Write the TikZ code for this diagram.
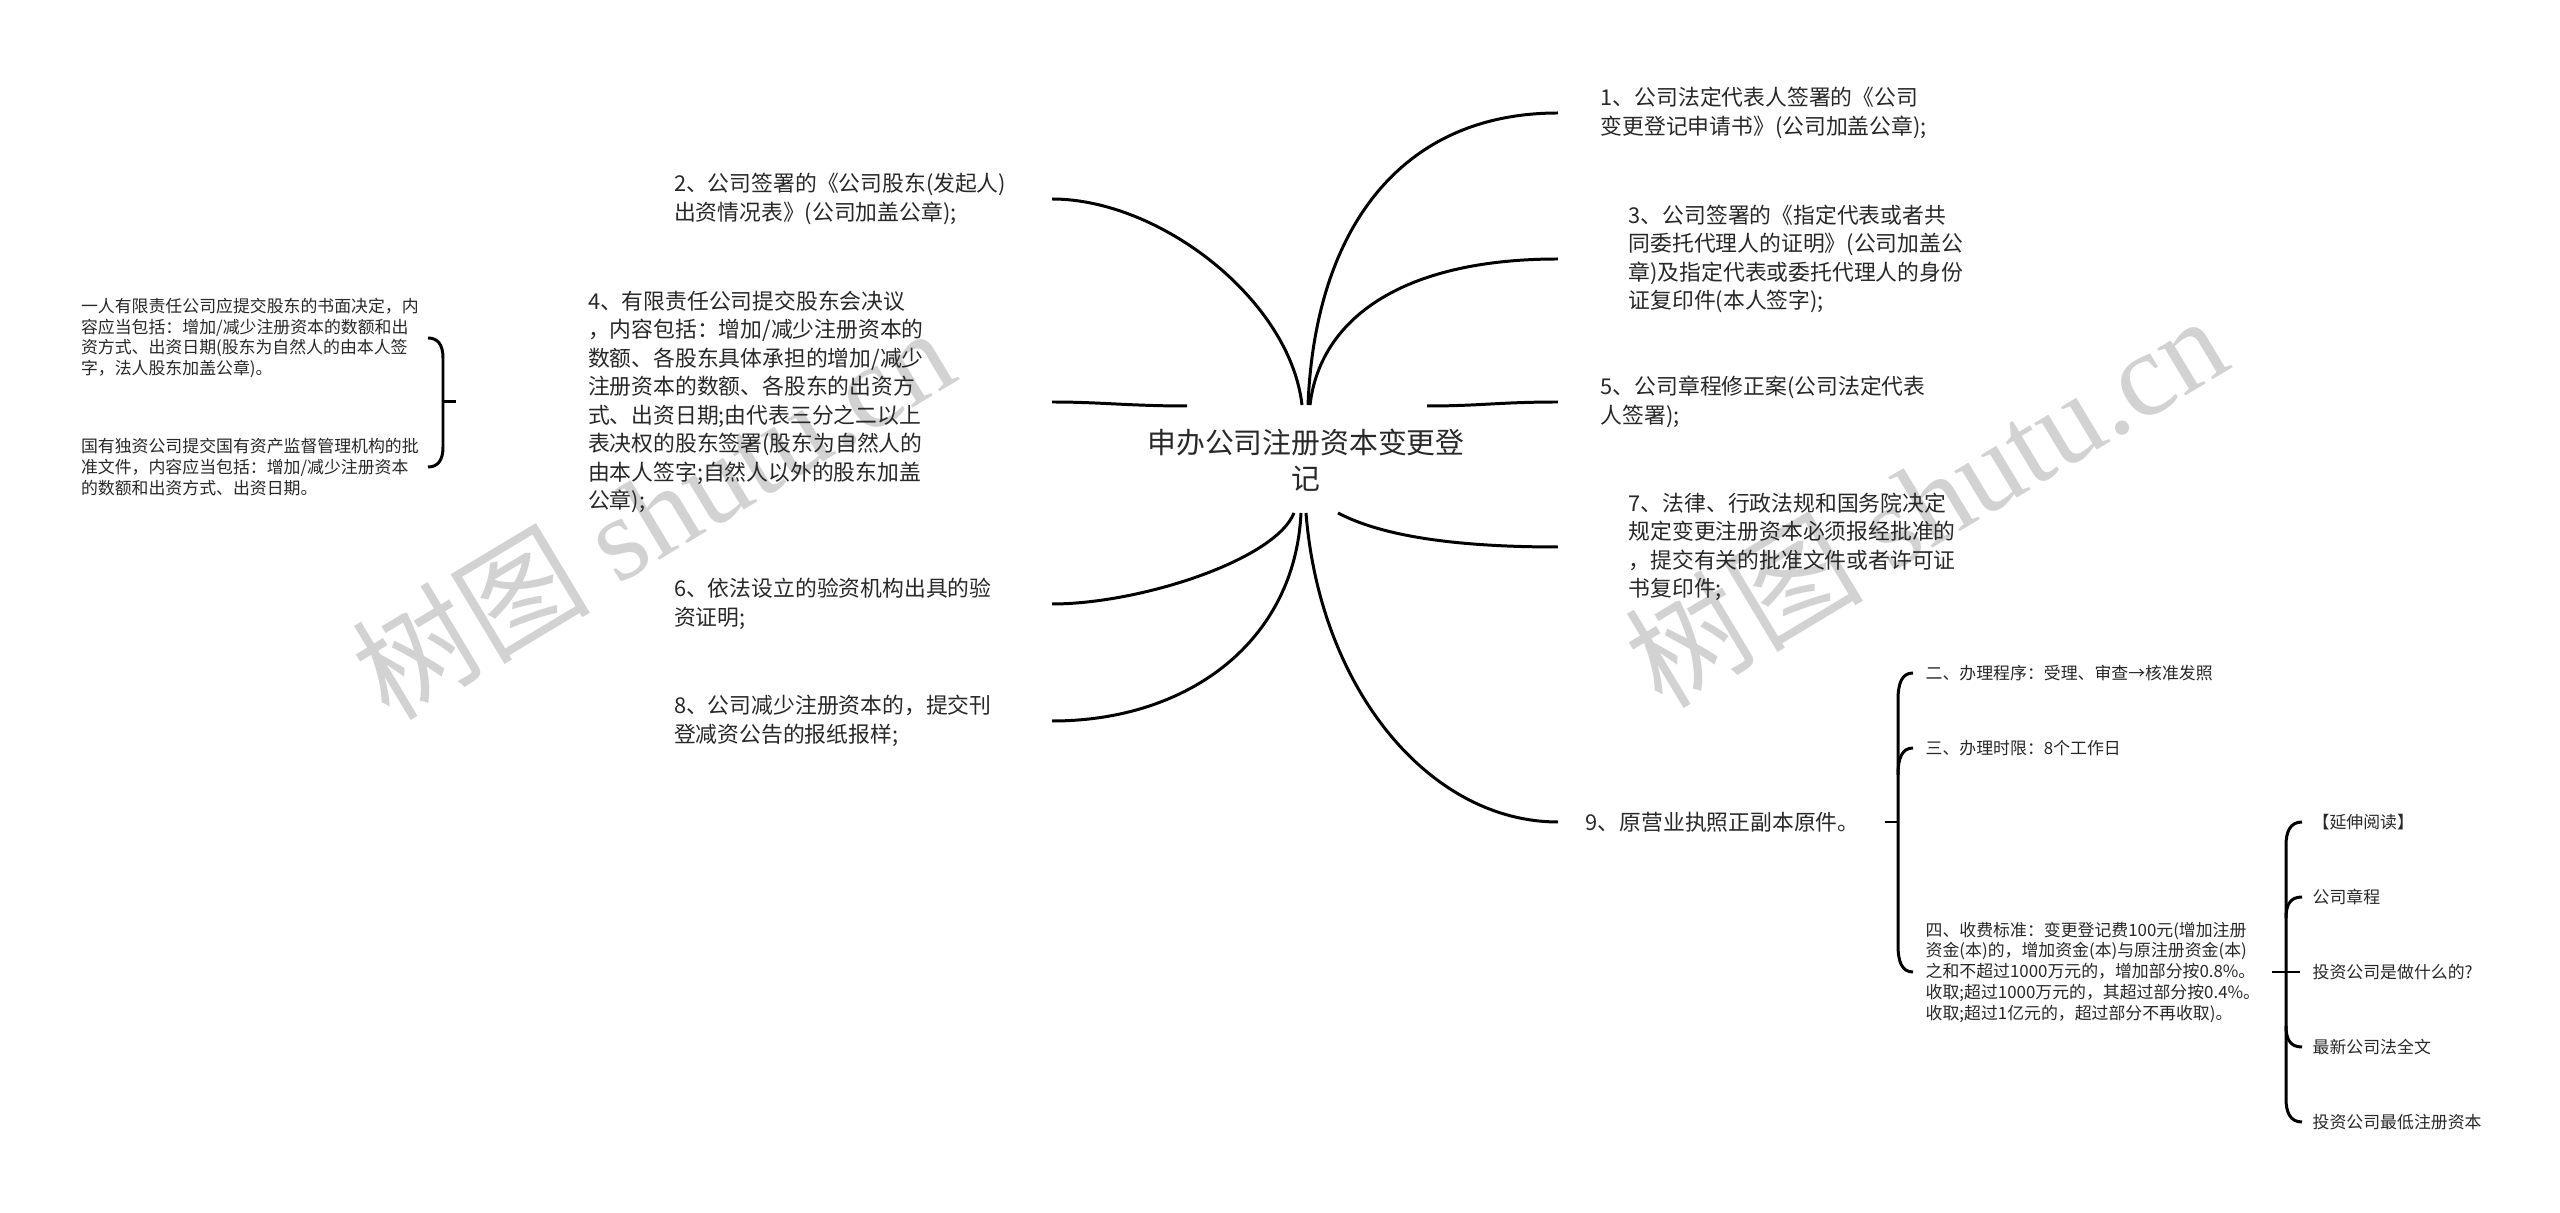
\documentclass[tikz,border=0pt]{standalone}
\usepackage{fontspec}
\setmainfont{Noto Sans CJK SC}
\newfontfamily\wmlatin{Liberation Serif}
\newfontfamily\wmcjk{Noto Sans CJK SC}
\definecolor{txt}{RGB}{40,40,40}
\definecolor{wmc}{RGB}{210,210,210}
\tikzset{
  leaf/.style={inner sep=0pt, align=left, text=txt, font=\fontsize{6.2pt}{8.1pt}\selectfont},
  leafsm/.style={inner sep=0pt, align=left, text=txt, font=\fontsize{4.8pt}{5.9pt}\selectfont},
  rootnode/.style={inner sep=0pt, align=center, text=txt, font=\fontsize{8.2pt}{10.2pt}\selectfont},
  conn/.style={line width=0.85pt, black},
  wmark/.style={inner sep=0pt, text=wmc, rotate=31, font=\fontsize{34pt}{38pt}\selectfont}
}
\begin{document}
\begin{tikzpicture}[x=0.01cm,y=-0.01cm]
\fill[white] (0,0) rectangle (2560,1213);
\useasboundingbox (0,0) rectangle (2560,1213);

% watermarks
\node[wmark] (w1) at (652,512) {\wmcjk 树图 \wmlatin shutu.cn};
\node[wmark] (w2) at (1925,500) {\wmcjk 树图 \wmlatin shutu.cn};

% root
\node[rootnode] (c) at (1306,460) {申办公司注册资本变更登\\记};
\coordinate (ct) at (1305,405);
\coordinate (cb) at (1301,513);
\coordinate (cl) at (1187,406);
\coordinate (cr) at (1427,406);
\coordinate (cbr) at (1338,513);

% right leaves
\node[leaf, anchor=west] (n1) at (1600,113) {1、公司法定代表人签署的《公司\\变更登记申请书》(公司加盖公章);};
\node[leaf, anchor=west] (n3) at (1628,259) {3、公司签署的《指定代表或者共\\同委托代理人的证明》(公司加盖公\\章)及指定代表或委托代理人的身份\\证复印件(本人签字);};
\node[leaf, anchor=west] (n5) at (1600,402) {5、公司章程修正案(公司法定代表\\人签署);};
\node[leaf, anchor=west] (n7) at (1628,547) {7、法律、行政法规和国务院决定\\规定变更注册资本必须报经批准的\\，提交有关的批准文件或者许可证\\书复印件;};
\node[leaf, anchor=west, text width=2.6cm] (n9) at (1585,822) {9、原营业执照正副本原件。};

% left leaves
\node[leaf, anchor=east, text width=3.77cm] (n2) at (1052,199) {2、公司签署的《公司股东(发起人)\\出资情况表》(公司加盖公章);};
\node[leaf, anchor=east, text width=4.63cm] (n4) at (1052,402) {4、有限责任公司提交股东会决议\\，内容包括：增加/减少注册资本的\\数额、各股东具体承担的增加/减少\\注册资本的数额、各股东的出资方\\式、出资日期;由代表三分之二以上\\表决权的股东签署(股东为自然人的\\由本人签字;自然人以外的股东加盖\\公章);};
\node[leaf, anchor=east, text width=3.77cm] (n6) at (1052,604) {6、依法设立的验资机构出具的验\\资证明;};
\node[leaf, anchor=east, text width=3.77cm] (n8) at (1052,721) {8、公司减少注册资本的，提交刊\\登减资公告的报纸报样;};

% children of 4
\node[leafsm, anchor=east, text width=3.46cm] (k1) at (428,338) {一人有限责任公司应提交股东的书面决定，内\\容应当包括：增加/减少注册资本的数额和出\\资方式、出资日期(股东为自然人的由本人签\\字，法人股东加盖公章)。};
\node[leafsm, anchor=east, text width=3.46cm] (k2) at (428,467) {国有独资公司提交国有资产监督管理机构的批\\准文件，内容应当包括：增加/减少注册资本\\的数额和出资方式、出资日期。};

% children of 9
\node[leafsm, anchor=west] (a1) at (1925,673) {二、办理程序：受理、审查→核准发照};
\node[leafsm, anchor=west] (a2) at (1925,748) {三、办理时限：8个工作日};
\node[leafsm, anchor=west, text width=3.27cm] (a3) at (1925,972) {四、收费标准：变更登记费100元(增加注册\\资金(本)的，增加资金(本)与原注册资金(本)\\之和不超过1000万元的，增加部分按0.8\%。\\收取;超过1000万元的，其超过部分按0.4\%。\\收取;超过1亿元的，超过部分不再收取)。};

% children of 四
\node[leafsm, anchor=west] (b1) at (2312,822) {【延伸阅读】};
\node[leafsm, anchor=west] (b2) at (2312,897) {公司章程};
\node[leafsm, anchor=west] (b3) at (2312,972) {投资公司是做什么的?};
\node[leafsm, anchor=west] (b4) at (2312,1047) {最新公司法全文};
\node[leafsm, anchor=west] (b5) at (2312,1122) {投资公司最低注册资本};

% main connectors
\draw[conn] ([xshift=0.03cm]ct) .. controls (1315,230) and (1400,113) .. ([xshift=-0.42cm]n1.west);
\draw[conn] ([xshift=-0.03cm]ct) .. controls (1290,300) and (1160,199) .. (n2.east);
\draw[conn] ([xshift=0.05cm]ct) .. controls (1320,320) and (1400,259) .. ([xshift=-0.70cm]n3.west);
\draw[conn] (cl) .. controls (1130,406) and (1100,402) .. (n4.east);
\draw[conn] (cr) .. controls (1480,406) and (1500,402) .. ([xshift=-0.42cm]n5.west);
\draw[conn] ([xshift=-0.07cm]cb) .. controls (1275,560) and (1140,604) .. (n6.east);
\draw[conn] (cbr) .. controls (1380,535) and (1450,547) .. ([xshift=-0.70cm]n7.west);
\draw[conn] (cb) .. controls (1295,640) and (1190,721) .. (n8.east);
\draw[conn] ([xshift=0.05cm]cb) .. controls (1320,690) and (1430,822) .. ([xshift=-0.27cm]n9.west);

% bracket for 4
\draw[conn] ([xshift=-1.31cm]n4.west) -- (443,402);
\draw[conn] (k1.east) .. controls (438,338) and (443,345) .. (443,358) -- (443,447) .. controls (443,460) and (438,467) .. (k2.east);

% bracket for 9
\draw[conn] ([xshift=0.38cm]n9.east) -- (1898,822);
\draw[conn] ([xshift=-0.12cm]a1.west) .. controls (1902,673) and (1898,683) .. (1898,700) -- (1898,945) .. controls (1898,962) and (1902,972) .. ([xshift=-0.12cm]a3.west);
\draw[conn] ([xshift=-0.12cm]a2.west) .. controls (1902,748) and (1898,758) .. (1898,775);

% bracket for 四
\draw[conn] ([xshift=0.18cm]a3.east) -- ([xshift=-0.12cm]b3.west);
\draw[conn] ([xshift=-0.10cm]b1.west) .. controls (2290,822) and (2286,832) .. (2286,845) -- (2286,1099) .. controls (2286,1112) and (2290,1122) .. ([xshift=-0.10cm]b5.west);
\draw[conn] ([xshift=-0.10cm]b2.west) .. controls (2290,897) and (2286,905) .. (2286,918);
\draw[conn] ([xshift=-0.10cm]b4.west) .. controls (2290,1047) and (2286,1039) .. (2286,1026);
\end{tikzpicture}
\end{document}
